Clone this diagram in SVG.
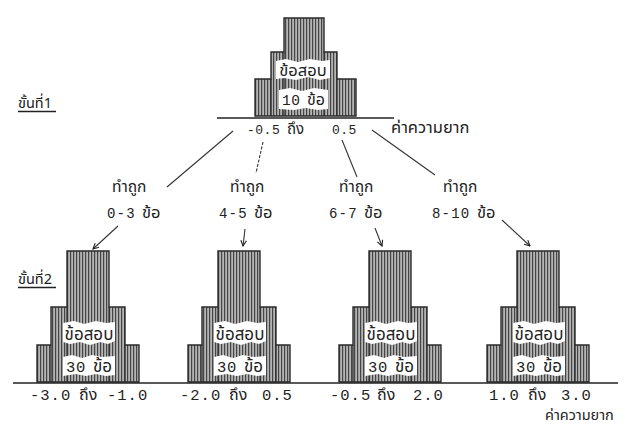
<svg xmlns="http://www.w3.org/2000/svg" xmlns:xlink="http://www.w3.org/1999/xlink" width="625" height="427" viewBox="0 0 625 427">
<defs>
<pattern id="hatch" patternUnits="userSpaceOnUse" width="3" height="10">
<rect width="3" height="10" fill="#b4b4b4"/>
<rect x="0" y="0" width="1.2" height="10" fill="#454545"/>
</pattern>
<marker id="arr" viewBox="0 0 10 10" refX="9" refY="5" markerWidth="7" markerHeight="7" orient="auto" markerUnits="userSpaceOnUse">
<path d="M1,1 L9,5 L1,9" fill="none" stroke="#222" stroke-width="1.6"/>
</marker>
<g id="shape2">
<path class="blk" d="M-21,251 H21 V307 H37 V345 H51 V382 H-51 V345 H-37 V307 H-21 Z"/>
<path class="inner" d="M-21,307 V382 M21,307 V382 M-37,345 V382 M37,345 V382"/>
<path class="blob" d="M-25,323 L-14,321 L-4,324 L8,321 L18,323 L27,322 L27,341 L20,344 L12,342 L2,345 L-8,342 L-18,344 L-25,342 Z"/>
<path class="blob" d="M-25,357 L-16,355 L-6,358 L4,355 L14,357 L27,356 L27,375 L18,376 L8,374 L-2,376 L-12,374 L-25,376 Z"/>
<text class="thai" x="1" y="340" text-anchor="middle" font-size="17">ข้อสอบ</text>
<text class="mono" x="-22" y="372" font-size="15.5" letter-spacing="0.8">30</text>
<text class="thai" x="5" y="372" font-size="17">ข้อ</text>
</g>
</defs>
<style>
.blk{fill:url(#hatch);stroke:#2a2a2a;stroke-width:1.4}
.inner{fill:none;stroke:#2a2a2a;stroke-width:1.2}
.blob{fill:#fff}
.mono{font-family:"Liberation Mono","DejaVu Sans Mono",monospace;fill:#222}
.thai{font-family:"Noto Sans Thai","Loma","Garuda","Tlwg Typo","Liberation Sans","DejaVu Sans",sans-serif;fill:#222}
.axis{stroke:#222;stroke-width:1.4;fill:none}
.conn{stroke:#333;stroke-width:1.1;fill:none}
</style>
<rect width="625" height="427" fill="#fff"/>

<g id="stage1-title">
<text class="thai" x="18" y="108" font-size="14.5">ขั้นที่1</text>
<line class="axis" x1="18" y1="111.5" x2="56" y2="111.5" stroke-width="1"/>
</g>

<g id="node-stage1">
<path class="blk" d="M284,18 H324 V52 H337 V79 H356 V116 H255 V79 H271 V52 H284 Z"/>
<path class="inner" d="M284,52 V116 M324,52 V116 M271,79 V116 M337,79 V116"/>
<path class="blob" d="M276,61 L286,59 L298,62 L310,59 L322,61 L330,60 L330,78 L320,80 L308,77 L296,80 L284,78 L276,79 Z"/>
<path class="blob" d="M279,90 L290,88 L302,91 L314,88 L328,90 L328,109 L318,110 L306,108 L294,110 L279,109 Z"/>
<text class="thai" x="303" y="76" text-anchor="middle" font-size="16.5">ข้อสอบ</text>
<text class="mono" x="282" y="105" font-size="14.5" letter-spacing="0.6">10</text>
<text class="thai" x="307" y="105" font-size="16">ข้อ</text>
<line class="axis" x1="217" y1="118" x2="394" y2="118"/>
<text class="mono" x="247" y="134" font-size="13" letter-spacing="0.5">-0.5</text>
<text class="thai" x="287" y="134" font-size="15">ถึง</text>
<text class="mono" x="332" y="134" font-size="13" letter-spacing="0.5">0.5</text>
<text class="thai" x="391" y="133" font-size="16.5">ค่าความยาก</text>
</g>

<g id="branch-1">
<text class="thai" x="112" y="192" font-size="15.5">ทำถูก</text>
<text class="mono" x="107" y="218" font-size="14" letter-spacing="1.2">0-3</text>
<text class="thai" x="142" y="218" font-size="16.5">ข้อ</text>
</g>
<g id="branch-2">
<text class="thai" x="230" y="192" font-size="15.5">ทำถูก</text>
<text class="mono" x="219" y="218" font-size="14" letter-spacing="1.2">4-5</text>
<text class="thai" x="254" y="218" font-size="16.5">ข้อ</text>
</g>
<g id="branch-3">
<text class="thai" x="339" y="192" font-size="15.5">ทำถูก</text>
<text class="mono" x="329" y="218" font-size="14" letter-spacing="1.2">6-7</text>
<text class="thai" x="364" y="218" font-size="16.5">ข้อ</text>
</g>
<g id="branch-4">
<text class="thai" x="443" y="192" font-size="15.5">ทำถูก</text>
<text class="mono" x="432" y="218" font-size="14" letter-spacing="1.2">8-10</text>
<text class="thai" x="477" y="218" font-size="16.5">ข้อ</text>
</g>

<g id="stage2-title">
<text class="thai" x="18" y="284" font-size="14.5">ขั้นที่2</text>
<line class="axis" x1="18" y1="287.5" x2="56" y2="287.5" stroke-width="1"/>
</g>

<g id="node-stage2-1">
<use xlink:href="#shape2" href="#shape2" transform="translate(88,0)"/>
<text class="mono" x="30" y="400" font-size="15.5" letter-spacing="1">-3.0</text>
<text class="thai" x="79" y="400" font-size="16">ถึง</text>
<text class="mono" x="107" y="400" font-size="15.5" letter-spacing="1">-1.0</text>
</g>
<g id="node-stage2-2">
<use xlink:href="#shape2" href="#shape2" transform="translate(239,0)"/>
<text class="mono" x="180" y="400" font-size="15.5" letter-spacing="1">-2.0</text>
<text class="thai" x="229" y="400" font-size="16">ถึง</text>
<text class="mono" x="262" y="400" font-size="15.5" letter-spacing="1">0.5</text>
</g>
<g id="node-stage2-3">
<use xlink:href="#shape2" href="#shape2" transform="translate(390,0)"/>
<text class="mono" x="330" y="400" font-size="15.5" letter-spacing="1">-0.5</text>
<text class="thai" x="377" y="400" font-size="16">ถึง</text>
<text class="mono" x="413" y="400" font-size="15.5" letter-spacing="1">2.0</text>
</g>
<g id="node-stage2-4">
<use xlink:href="#shape2" href="#shape2" transform="translate(538,0)"/>
<text class="mono" x="489" y="400" font-size="15.5" letter-spacing="1">1.0</text>
<text class="thai" x="528" y="400" font-size="16">ถึง</text>
<text class="mono" x="561" y="400" font-size="15.5" letter-spacing="1">3.0</text>
</g>

<g id="axis-stage2">
<line class="axis" x1="13" y1="383" x2="618" y2="383"/>
<text class="thai" x="545" y="420" font-size="14.5">ค่าความยาก</text>
</g>

<g id="connectors">
<line class="conn" x1="233" y1="131" x2="167" y2="187"/>
<line class="conn" x1="263" y1="142" x2="256" y2="173" stroke="#888" stroke-dasharray="3 1.5"/>
<line class="conn" x1="342" y1="140" x2="357" y2="177"/>
<line class="conn" x1="372" y1="130" x2="435" y2="175"/>
<line class="conn" x1="118" y1="226" x2="93" y2="249" marker-end="url(#arr)"/>
<line class="conn" x1="245" y1="229" x2="243" y2="246" marker-end="url(#arr)"/>
<line class="conn" x1="375" y1="228" x2="382" y2="246" marker-end="url(#arr)"/>
<line class="conn" x1="502" y1="220" x2="530" y2="246" marker-end="url(#arr)"/>
</g>
</svg>
